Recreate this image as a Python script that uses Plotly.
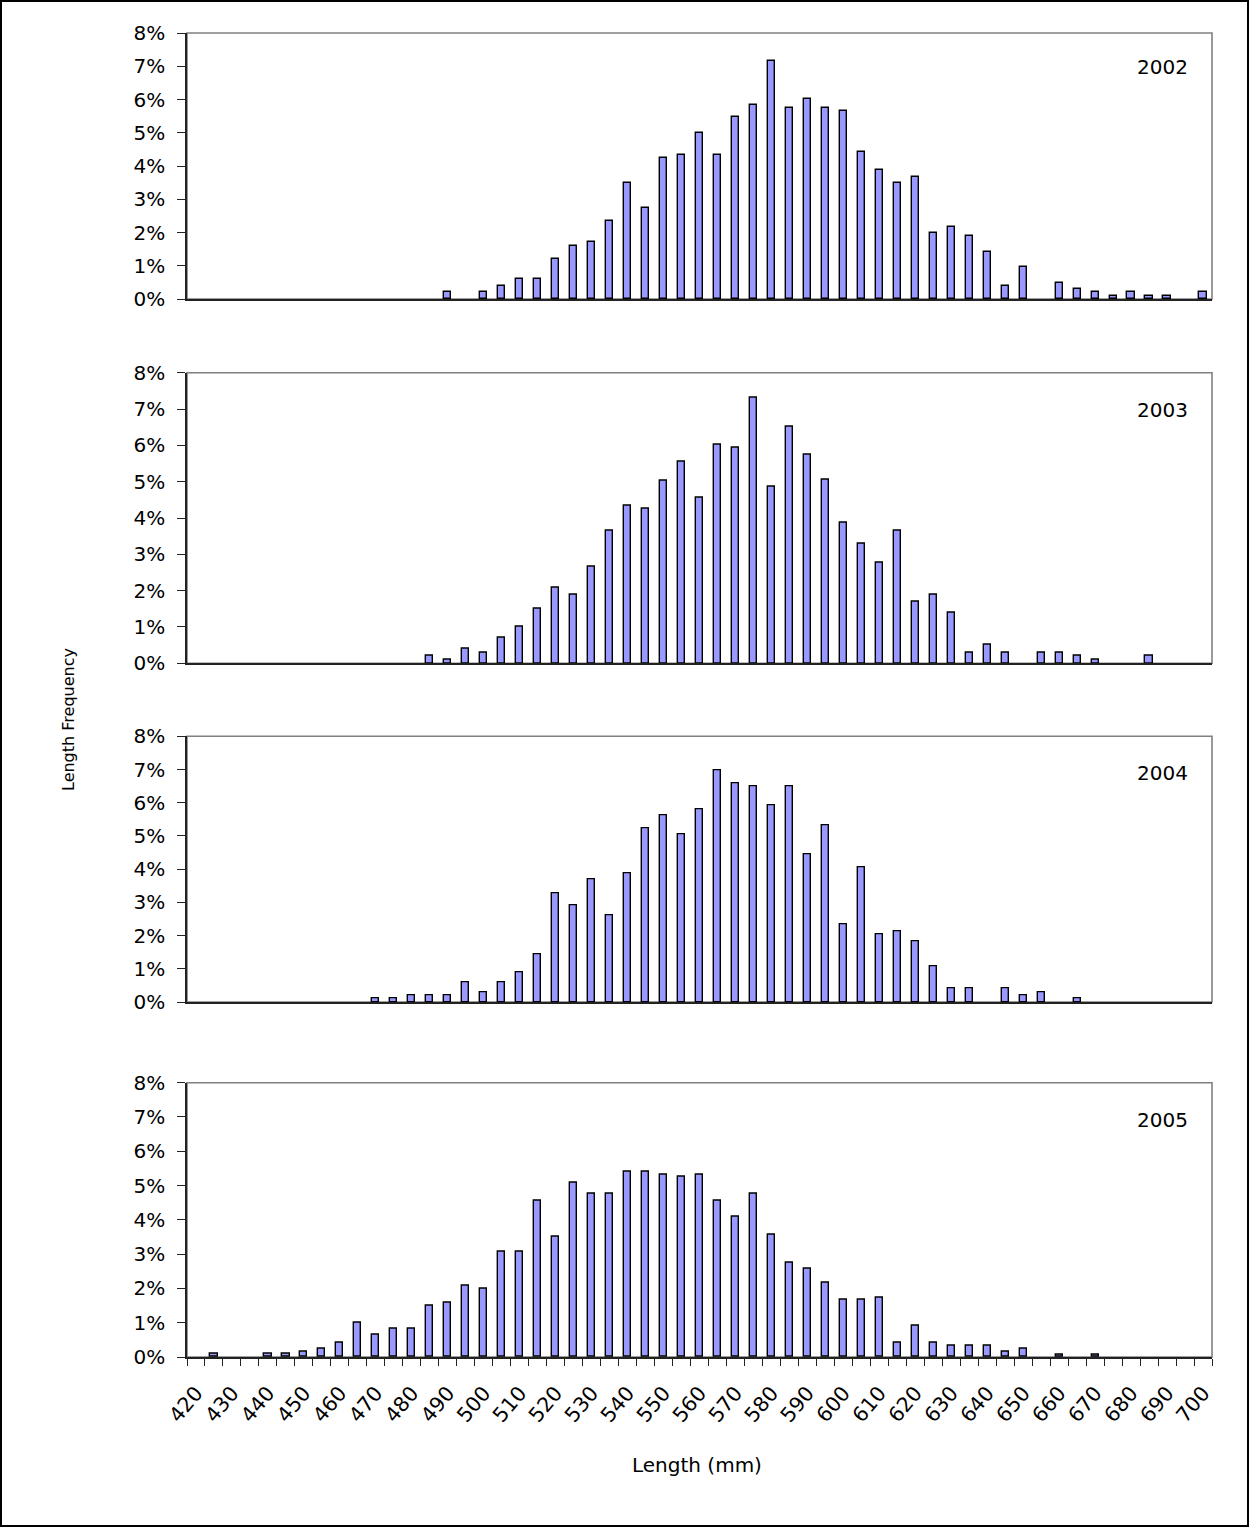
import plotly.graph_objects as go

# Length bins (mm), 5 mm wide
lengths = list(range(420, 705, 5))

# Percent of fish in each length bin, one list per survey year
freq_2002 = [0, 0, 0, 0, 0, 0, 0, 0, 0, 0, 0, 0, 0, 0,
             0.2, 0, 0.2, 0.4, 0.6, 0.6, 1.2, 1.6, 1.7, 2.35, 3.5, 2.73,
             4.24, 4.33, 5.0, 4.33, 5.46, 5.83, 7.15, 5.74, 6.02, 5.74,
             5.65, 4.43, 3.87, 3.49, 3.67, 1.99, 2.17, 1.89, 1.42, 0.4,
             0.95, 0, 0.48, 0.29, 0.2, 0.1, 0.2, 0.1, 0.1, 0, 0.2]
freq_2003 = [0, 0, 0, 0, 0, 0, 0, 0, 0, 0, 0, 0, 0,
             0.2, 0.1, 0.4, 0.3, 0.7, 1.0, 1.5, 2.07, 1.88, 2.67, 3.66,
             4.35, 4.25, 5.04, 5.54, 4.55, 6.03, 5.93, 7.32, 4.85, 6.52,
             5.73, 5.05, 3.86, 3.28, 2.77, 3.66, 1.69, 1.88, 1.39, 0.3,
             0.5, 0.3, 0, 0.3, 0.3, 0.2, 0.1, 0, 0, 0.2, 0, 0, 0]
freq_2004 = [0, 0, 0, 0, 0, 0, 0, 0, 0, 0,
             0.1, 0.1, 0.2, 0.2, 0.2, 0.6, 0.3, 0.6, 0.9, 1.45, 3.28,
             2.9, 3.68, 2.61, 3.88, 5.22, 5.61, 5.04, 5.81, 6.98, 6.59,
             6.5, 5.91, 6.5, 4.46, 5.33, 2.33, 4.07, 2.04, 2.13, 1.84,
             1.07, 0.4, 0.4, 0, 0.4, 0.2, 0.3, 0, 0.1, 0, 0, 0, 0, 0, 0, 0]
freq_2005 = [0, 0.1, 0, 0, 0.1, 0.1, 0.16, 0.24, 0.41, 1.0, 0.65,
             0.83, 0.83, 1.49, 1.57, 2.08, 1.99, 3.08, 3.08, 4.57, 3.5,
             5.07, 4.75, 4.75, 5.41, 5.41, 5.32, 5.25, 5.32, 4.57, 4.08,
             4.75, 3.57, 2.75, 2.57, 2.17, 1.66, 1.66, 1.74, 0.41, 0.9,
             0.41, 0.32, 0.32, 0.32, 0.16, 0.24, 0, 0.08, 0, 0.08,
             0, 0, 0, 0, 0, 0]

years = ["2002", "2003", "2004", "2005"]
series = [freq_2002, freq_2003, freq_2004, freq_2005]

# Axis tick labels (every other bin is labelled)
x_tick_vals = list(range(420, 705, 10))
x_tick_text = [str(v) for v in x_tick_vals]
y_tick_vals = list(range(0, 9))
y_tick_text = [f"{v}%" for v in y_tick_vals]

FONT = "DejaVu Sans, Arial, sans-serif"
FS = 20          # horizontal text
FS_XTICK = 20.5  # slanted length labels
FS_YTITLE = 16   # vertical axis title
W, H = 1249, 1527
ML, MR, MT, MB = 187, 37, 33, 170
PW, PH = W - ML - MR, H - MT - MB

# Panel extents in pixels from the top of the page (top, bottom)
panel_px = [(33.0, 299.0), (372.7, 663.3), (736.3, 1002.0), (1082.7, 1357.0)]
label_offset = [34.5, 37, 37, 37]


def py(px):
    """Pixel row -> paper y."""
    return (H - MB - px) / PH


def px_x(px):
    """Pixel column -> paper x."""
    return (px - ML) / PW


def clamp(v):
    return min(1.0, max(0.0, v))


def sfx(k):
    return "" if k == 1 else str(k)


fig = go.Figure()
layout = dict(
    width=W, height=H, template="none",
    paper_bgcolor="white", plot_bgcolor="white",
    margin=dict(l=ML, r=MR, t=MT, b=MB, autoexpand=False),
    showlegend=False, bargap=0,
    font=dict(family=FONT, size=FS, color="black"),
)
shapes, annotations = [], []

for k, (yr, vals) in enumerate(zip(years, series), start=1):
    s = sfx(k)
    xs = [L for L, v in zip(lengths, vals) if v > 0]
    ys = [v for v in vals if v > 0]
    fig.add_trace(go.Bar(
        x=xs, y=ys, width=2.0,
        marker=dict(color="#9999FF", line=dict(color="black", width=1.4)),
        xaxis=f"x{s}", yaxis=f"y{s}", name=yr,
    ))
    top, bot = panel_px[k - 1]
    bottom_panel = k == len(years)
    xa = dict(
        domain=[0, 1], anchor=f"y{s}", range=[417.5, 702.5],
        showgrid=False, zeroline=False, automargin=False,
        showline=True, linecolor="#222222", linewidth=1.6,
        ticks="", showticklabels=False,
    )
    if bottom_panel:
        xa.update(
            tickmode="array", tickvals=x_tick_vals, ticktext=x_tick_text,
            showticklabels=True, tickangle=-50, ticklabelstandoff=14,
            tickfont=dict(family=FONT, size=FS_XTICK, color="black"),
            minor=dict(tickmode="array",
                       tickvals=[v - 2.5 for v in lengths] + [702.5],
                       ticks="outside", ticklen=7, tickwidth=1.2,
                       tickcolor="#222222", showgrid=False),
        )
    ya = dict(
        domain=[clamp(py(bot)), clamp(py(top))], anchor=f"x{s}", range=[0, 8],
        tickmode="array", tickvals=y_tick_vals, ticktext=y_tick_text,
        ticks="outside", ticklen=8, tickwidth=1.2, tickcolor="#222222",
        ticklabelstandoff=8,
        showgrid=False, zeroline=False, automargin=False,
        showline=True, linecolor="#222222", linewidth=1.6,
        tickfont=dict(family=FONT, size=FS, color="black"),
    )
    layout[f"xaxis{s}"] = xa
    layout[f"yaxis{s}"] = ya

    # grey plot-area frame
    shapes.append(dict(type="rect", xref=f"x{s} domain", yref=f"y{s} domain",
                       x0=0, x1=1, y0=0, y1=1, layer="below",
                       line=dict(color="#808080", width=1.6)))
    # year label inside the panel
    annotations.append(dict(text=yr, xref="paper", yref="paper",
                            x=px_x(1162), y=py(top + label_offset[k - 1]),
                            xanchor="center", yanchor="middle",
                            showarrow=False,
                            font=dict(family=FONT, size=FS, color="black")))

# axis titles
annotations.append(dict(text="Length Frequency", xref="paper", yref="paper",
                        x=px_x(68), y=py(720), textangle=-90,
                        xanchor="center", yanchor="middle", showarrow=False,
                        font=dict(family=FONT, size=FS_YTITLE, color="black")))
annotations.append(dict(text="Length (mm)", xref="paper", yref="paper",
                        x=px_x(697), y=py(1465),
                        xanchor="center", yanchor="middle", showarrow=False,
                        font=dict(family=FONT, size=FS, color="black")))

# outer chart border
shapes.append(dict(type="rect", xref="paper", yref="paper",
                   x0=px_x(1), x1=px_x(W - 1), y0=py(H - 1), y1=py(1),
                   line=dict(color="black", width=2), layer="above"))

layout["shapes"] = shapes
layout["annotations"] = annotations
fig.update_layout(**layout)
fig.write_html("out.html")
